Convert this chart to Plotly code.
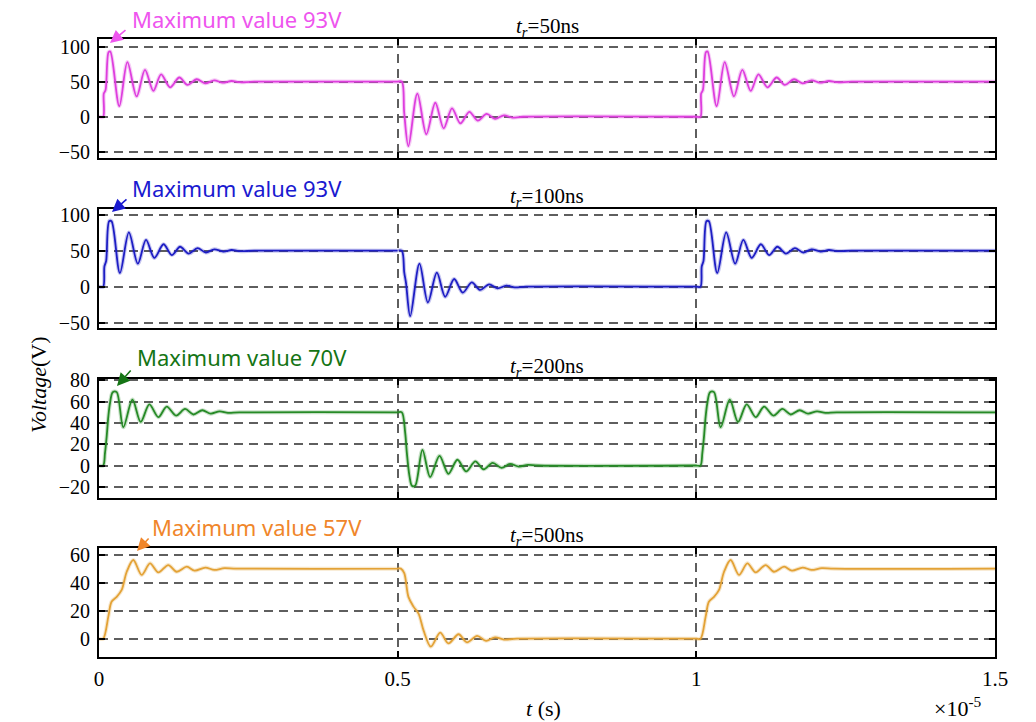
import plotly.graph_objects as go

# time unit: 1e-5 s (axis shows x10^-5)
edge_rise_times = [0.0, 1.0]
edge_fall_times = [0.5]

# ---- t_r = 50 ns ----
rise50_dt = [0, 0.007, 0.008, 0.011, 0.016, 0.019, 0.034, 0.0475, 0.063, 0.077, 0.091, 0.104, 0.119,
             0.1345, 0.148, 0.1636, 0.1776, 0.193, 0.207, 0.222, 0.236, 0.26, 0.5]
rise50_v = [0, 0, 33, 38, 92, 93, 15, 78, 29, 67, 37, 60.5, 42,
            56, 45.5, 53.5, 47.7, 52, 48.6, 51, 49.3, 50, 50]
fall50_dt = [0, 0.007, 0.011, 0.018, 0.033, 0.048, 0.063, 0.077, 0.091, 0.105, 0.120, 0.134,
             0.149, 0.163, 0.178, 0.192, 0.21, 0.5]
fall50_v = [50, 50, 5, -42, 33, -25, 20, -16.5, 12, -9.5, 7, -5.5,
            4, -3, 2, -1.3, 0, 0]

# ---- t_r = 100 ns ----
rise100_dt = [0, 0.007, 0.009, 0.012, 0.017, 0.021, 0.035, 0.050, 0.065, 0.0787, 0.0927, 0.108, 0.122,
              0.1357, 0.150, 0.165, 0.179, 0.193, 0.208, 0.222, 0.237, 0.26, 0.5]
rise100_v = [0, 0, 28, 36, 91, 91, 19, 75.5, 32, 65, 40, 59, 44,
             55.5, 46, 53.5, 47.5, 52, 48.8, 51, 49.4, 50, 50]
fall100_dt = [0, 0.007, 0.011, 0.014, 0.021, 0.0365, 0.0506, 0.0656, 0.0796, 0.0946, 0.109, 0.124,
              0.138, 0.153, 0.167, 0.182, 0.196, 0.215, 0.5]
fall100_v = [50, 50, 20, 5, -41, 32, -22, 19.5, -14, 10.7, -8.3, 6,
             -4.5, 3.2, -2.3, 1.5, -1, 0, 0]

# ---- t_r = 200 ns ----
rise200_dt = [0, 0.007, 0.010, 0.0128, 0.0156, 0.0184, 0.023, 0.0296, 0.0407, 0.056, 0.0698, 0.0843,
              0.0994, 0.1134, 0.129, 0.144, 0.158, 0.173, 0.187, 0.202, 0.216, 0.235, 0.5]
rise200_v = [0, 0, 11.6, 27, 46, 58.6, 69, 69, 36, 62, 41, 57.5,
             45.5, 55.4, 47, 53.2, 48, 52, 48.8, 51, 49.5, 50, 50]
fall200_dt = [0, 0.007, 0.0126, 0.0154, 0.0198, 0.0238, 0.0293, 0.0415, 0.0544, 0.070, 0.085, 0.100,
              0.1147, 0.130, 0.144, 0.159, 0.174, 0.188, 0.203, 0.218, 0.235, 0.5]
fall200_v = [50, 50, 30.7, 11.6, -10, -19, -19, 14.7, -10.9, 9.1, -7.8, 5.4,
             -5.6, 3.8, -3.6, 2.5, -2.2, 1.4, -1, 0.6, 0, 0]

# ---- t_r = 500 ns ----
rise500_dt = [0, 0.007, 0.0156, 0.021, 0.0296, 0.038, 0.0464, 0.0575, 0.0715, 0.0854, 0.0994, 0.116,
              0.130, 0.147, 0.16, 0.178, 0.193, 0.21, 0.23, 0.5]
rise500_v = [0, 0, 15.8, 26.5, 30, 35, 48, 56.4, 45.7, 54, 47.6, 52.8,
             48, 51.6, 48.8, 51, 49.3, 50.6, 50.2, 50.2]
fall500_dt = [0, 0.0053, 0.011, 0.018, 0.0265, 0.035, 0.0433, 0.0556, 0.0712, 0.085, 0.102, 0.116,
              0.133, 0.148, 0.163, 0.178, 0.2, 0.5]
fall500_v = [50.2, 50.2, 47, 30, 23, 18, 6, -5.7, 4.3, -3.3, 3.2, -2.6,
             2, -1.5, 1, -0.6, 0, 0]

panel_titles = ["<i>t<sub>r</sub></i>=50ns", "<i>t<sub>r</sub></i>=100ns",
                "<i>t<sub>r</sub></i>=200ns", "<i>t<sub>r</sub></i>=500ns"]
max_labels = ["Maximum value 93V", "Maximum value 93V", "Maximum value 70V", "Maximum value 57V"]
y_ticks = [[-50, 0, 50, 100], [-50, 0, 50, 100], [-20, 0, 20, 40, 60, 80], [0, 20, 40, 60]]
x_ticks = [0, 0.5, 1, 1.5]
x_ticktext = ["0", "0.5", "1", "1.5"]

panels = [
    (rise50_dt, rise50_v, fall50_dt, fall50_v),
    (rise100_dt, rise100_v, fall100_dt, fall100_v),
    (rise200_dt, rise200_v, fall200_dt, fall200_v),
    (rise500_dt, rise500_v, fall500_dt, fall500_v),
]

line_colors = ["#de3ede", "#1d1dc4", "#268a26", "#e3a236"]
text_colors = ["#ee55ee", "#1a1ad0", "#157515", "#f0862a"]
y_ranges = [[-58.5, 111], [-57, 108], [-30.3, 81.4], [-12.9, 64.8]]
H = 722.0
frames_px = [(39, 157.7), (209, 327.7), (379, 497.7), (548.3, 656.7)]
L, R = 99, 995
W_plot = R - L

def build(rdt, rv, fdt, fv):
    xs, ys = [], []
    for t0 in edge_rise_times[:1]:
        xs += [t0 + d for d in rdt]; ys += rv
    for t0 in edge_fall_times:
        xs += [t0 + d for d in fdt]; ys += fv
    for t0 in edge_rise_times[1:]:
        xs += [t0 + d for d in rdt]; ys += rv
    return xs, ys

fig = go.Figure()
serif = "Liberation Serif, Times New Roman, serif"

for i, (rdt, rv, fdt, fv) in enumerate(panels):
    xs, ys = build(rdt, rv, fdt, fv)
    n = "" if i == 0 else str(i + 1)
    fig.add_trace(go.Scatter(x=xs, y=ys, mode="lines", xaxis="x" + n, yaxis="y" + n,
                             line=dict(color=line_colors[i], width=4, shape="spline", smoothing=0.9),
                             opacity=0.25, showlegend=False, hoverinfo="skip"))
    fig.add_trace(go.Scatter(x=xs, y=ys, mode="lines", xaxis="x" + n, yaxis="y" + n,
                             line=dict(color=line_colors[i], width=1.8, shape="spline", smoothing=0.9),
                             showlegend=False))

layout = dict(width=1036, height=722,
              margin=dict(l=L, r=1036 - R, t=0, b=0, pad=0, autoexpand=False),
              plot_bgcolor="white", paper_bgcolor="white", showlegend=False)

annotations = []
for i in range(4):
    n = "" if i == 0 else str(i + 1)
    top, bot = frames_px[i]
    dom = [1 - bot / H, 1 - top / H]
    axis_common = dict(showline=True, linecolor="black", linewidth=2, mirror="ticks",
                       ticks="inside", ticklen=6, tickwidth=1.5, tickcolor="black",
                       showgrid=True, gridcolor="#5e5e5e", gridwidth=1.6, griddash="9px,6px",
                       zeroline=False, automargin=False)
    layout["xaxis" + n] = dict(axis_common, domain=[0, 1], range=[0, 1.5], anchor="y" + n,
                               tickvals=x_ticks, ticktext=x_ticktext,
                               tickfont=dict(family=serif, size=21, color="black"),
                               showticklabels=(i == 3), ticklabelstandoff=2)
    layout["yaxis" + n] = dict(axis_common, domain=dom, range=y_ranges[i], anchor="x" + n,
                               tickvals=y_ticks[i], ticklabelstandoff=3,
                               tickfont=dict(family=serif, size=20, color="black"))
    annotations.append(dict(text=panel_titles[i], xref="paper", yref="paper", x=0.5, y=dom[1],
                            xanchor="center", yanchor="bottom", showarrow=False, yshift=-3,
                            font=dict(family=serif, size=21, color="black")))

# max value labels and arrows (pixel positions converted to paper)
label_px = [(130, 19), (130, 188), (135, 357), (150, 527)]
tip_px = [(110, 43), (112, 212), (117, 386), (137, 551)]
tail_px = [(127, 29), (128, 198), (132, 369), (150, 537)]
for i in range(4):
    lx, ly = label_px[i]
    annotations.append(dict(text=max_labels[i], xref="paper", yref="paper",
                            x=(lx - L) / W_plot, y=1 - ly / H, xanchor="left", yanchor="middle",
                            showarrow=False, font=dict(family="Noto Sans, Open Sans, sans-serif",
                                                       size=22, color=text_colors[i])))
    tx, ty = tip_px[i]
    sx, sy = tail_px[i]
    annotations.append(dict(text="", xref="paper", yref="paper",
                            x=(tx - L) / W_plot, y=1 - ty / H, ax=sx - tx, ay=sy - ty,
                            showarrow=True, arrowhead=2, arrowsize=1.6, arrowwidth=1.6,
                            arrowcolor=text_colors[i]))

annotations.append(dict(text="<i>Voltage</i>(V)", xref="paper", yref="paper",
                        x=(38 - L) / W_plot, y=1 - 385 / H, textangle=-90, showarrow=False,
                        xanchor="center", yanchor="middle",
                        font=dict(family=serif, size=22, color="black")))
annotations.append(dict(text="<i>t</i> (s)", xref="paper", yref="paper",
                        x=(543 - L) / W_plot, y=1 - 708 / H, showarrow=False,
                        xanchor="center", yanchor="middle",
                        font=dict(family=serif, size=22, color="black")))
annotations.append(dict(text="×10<sup>-5</sup>", xref="paper", yref="paper",
                        x=(958 - L) / W_plot, y=1 - 707 / H, showarrow=False,
                        xanchor="center", yanchor="middle",
                        font=dict(family=serif, size=22, color="black")))
layout["annotations"] = annotations
fig.update_layout(**layout)
fig.write_html("out.html")
